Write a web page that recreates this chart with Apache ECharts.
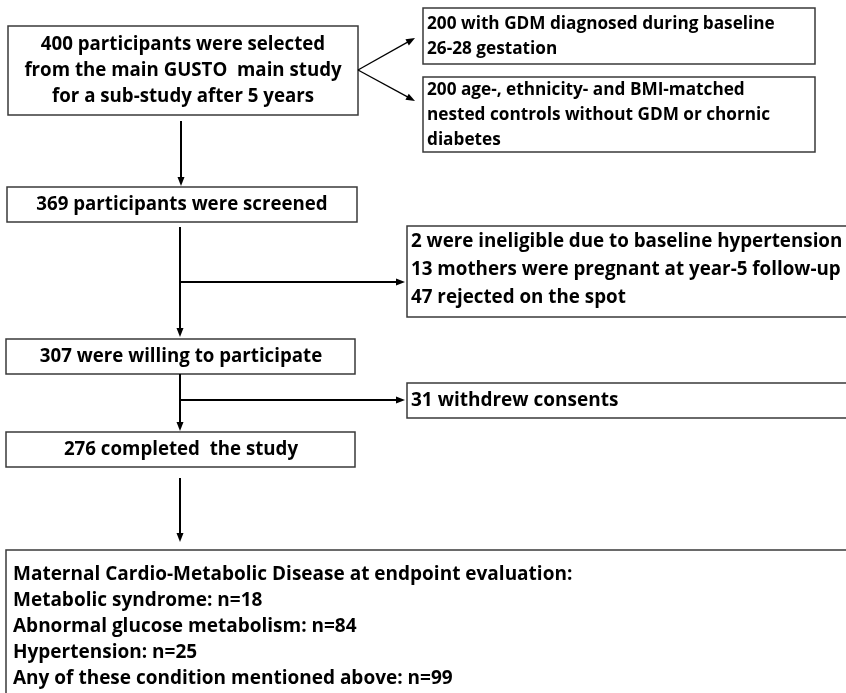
<!DOCTYPE html>
<html>
<head>
<meta charset="utf-8">
<script src="https://cdn.jsdelivr.net/npm/echarts@6/dist/echarts.min.js"></script>
<style>
html,body{margin:0;padding:0;background:#fff;}
#chart{width:846px;height:693px;}
</style>
</head>
<body>
<div id="chart"></div>
<script>
// ---- Text content (data) ----
const selectedLines = ["400 participants were selected", "from the main GUSTO  main study", "for a sub-study after 5 years"];
const gdmLines = ["200 with GDM diagnosed during baseline", "26-28 gestation"];
const controlLines = ["200 age-, ethnicity- and BMI-matched", "nested controls without GDM or chornic", "diabetes"];
const screenedLines = ["369 participants were screened"];
const excludedLines = ["2 were ineligible due to baseline hypertension", "13 mothers were pregnant at year-5 follow-up", "47 rejected on the spot"];
const willingLines = ["307 were willing to participate"];
const withdrewLines = ["31 withdrew consents"];
const completedLines = ["276 completed  the study"];
const outcomeLines = ["Maternal Cardio-Metabolic Disease at endpoint evaluation:", "Metabolic syndrome: n=18", "Abnormal glucose metabolism: n=84", "Hypertension: n=25", "Any of these condition mentioned above: n=99"];

// ---- Layout ----
const FONT = '"Open Sans", "Noto Sans", sans-serif';
const boxes = [
  {lines: selectedLines, x: 8, y: 26, w: 350, h: 89, align: 'center', tx: 183, ty: 70.5, lh: 26, size: 18.7},
  {lines: gdmLines, x: 423, y: 8, w: 392, h: 56, align: 'left', tx: 427, ty: 36.5, lh: 25, size: 17.2},
  {lines: controlLines, x: 423, y: 77, w: 392, h: 75, align: 'left', tx: 427, ty: 115, lh: 25, size: 17.2},
  {lines: screenedLines, x: 7, y: 187, w: 350, h: 35, align: 'center', tx: 182, ty: 205, lh: 25, size: 18.7},
  {lines: excludedLines, x: 407, y: 226, w: 460, h: 91, align: 'left', tx: 411, ty: 270, lh: 28, size: 18.8},
  {lines: willingLines, x: 6, y: 339, w: 349, h: 35, align: 'center', tx: 181, ty: 357, lh: 25, size: 18.7},
  {lines: withdrewLines, x: 407, y: 383, w: 460, h: 35, align: 'left', tx: 411, ty: 401, lh: 25, size: 19},
  {lines: completedLines, x: 6, y: 432, w: 349, h: 35, align: 'center', tx: 181, ty: 450, lh: 25, size: 18.7},
  {lines: outcomeLines, x: 6, y: 550, w: 860, h: 200, align: 'left', tx: 13, ty: 627, lh: 26, size: 19}
];
const arrows = [
  {x1: 358, y1: 70, x2: 415, y2: 38, lw: 1.3},
  {x1: 358, y1: 70, x2: 415, y2: 101, lw: 1.3},
  {x1: 181, y1: 121, x2: 181, y2: 186, lw: 2},
  {x1: 180, y1: 227, x2: 180, y2: 337, lw: 2},
  {x1: 180, y1: 282, x2: 405, y2: 282, lw: 2},
  {x1: 180, y1: 374, x2: 180, y2: 431, lw: 2},
  {x1: 180, y1: 400, x2: 405, y2: 400, lw: 2},
  {x1: 180, y1: 478, x2: 180, y2: 542, lw: 2}
];

const elements = [];
boxes.forEach(function (b) {
  elements.push({
    type: 'rect', shape: {x: b.x, y: b.y, width: b.w, height: b.h},
    style: {fill: '#fff', stroke: '#3a3a3a', lineWidth: 1.5}, z: 1
  });
  elements.push({
    type: 'text', x: b.tx, y: b.ty, z: 3,
    style: {
      text: b.lines.join('\n'), fill: '#000',
      font: 'bold ' + b.size + 'px ' + FONT,
      lineHeight: b.lh, textAlign: b.align, textVerticalAlign: 'middle'
    }
  });
});
arrows.forEach(function (a) {
  const dx = a.x2 - a.x1, dy = a.y2 - a.y1, len = Math.sqrt(dx * dx + dy * dy);
  const ux = dx / len, uy = dy / len, L = 9, W = 3.5;
  const bx = a.x2 - ux * L, by = a.y2 - uy * L;
  elements.push({
    type: 'line', shape: {x1: a.x1, y1: a.y1, x2: bx + ux * 1, y2: by + uy * 1},
    style: {stroke: '#000', lineWidth: a.lw}, z: 2
  });
  elements.push({
    type: 'polygon', z: 2,
    shape: {points: [[a.x2, a.y2], [bx - uy * W, by + ux * W], [bx + uy * W, by - ux * W]]},
    style: {fill: '#000'}
  });
});

const chart = echarts.init(document.getElementById('chart'), null, {renderer: 'canvas'});
chart.setOption({backgroundColor: '#fff', animation: false, graphic: {elements: elements}});
</script>
</body>
</html>
